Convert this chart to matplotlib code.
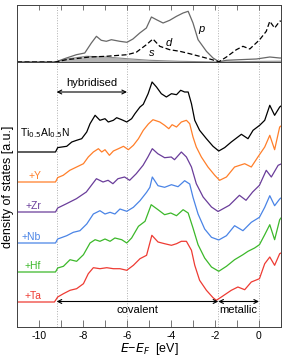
import numpy as np
import matplotlib
matplotlib.use("Agg")
import matplotlib.pyplot as plt

# --- data (heights in arbitrary units) ---

# top panel: partial DOS of Ti0.5Al0.5N
p_E = [-11, -9.25, -8.75, -8.3, -7.92, -7.62, -7.39, -7.17, -6.94, -6.71, -6.33, -6.0, -5.73, -5.42,
       -5.12, -4.89, -4.66, -4.36, -4.06, -3.75, -3.45, -3.22, -3.0, -2.77, -2.39, -2.09, -1.82,
       -1.48, -0.88, -0.12, 0.49, 0.94, 1.0]
p_val = [0, 0, 4, 7.3, 9, 19, 25.7, 21.7, 20.7, 22.3, 20.7, 19.7, 23, 29,
         34, 45, 42.3, 39, 41.7, 45.7, 49, 50.7, 39, 22.3, 10.7, 4, 0.3,
         1.7, 2.3, 3, 5, 4, 4]
d_E = [-11, -9.25, -8.75, -7.7, -6.94, -6.0, -5.58, -5.12, -4.82, -4.51, -4.06, -3.6, -3.15, -2.7,
       -2.24, -1.82, -1.48, -1.03, -0.73, -0.42, 0.03, 0.33, 0.49, 0.71, 0.94, 1.0]
d_val = [0, 0, 2.3, 5, 5.7, 7.3, 9.7, 17.3, 23, 15.7, 12.3, 10.7, 8.3, 5.7,
         3, 0.3, 5, 12.3, 15.7, 13, 22.3, 30.7, 40.7, 34, 40.7, 41]
s_E = [-11, -9.25, -8.75, -7.85, -6.94, -6.0, -4.97, -3.6, -1.82, -1.0, 0.0, 1.0]
s_val = [0, 0, 3, 5.7, 5, 3.3, 1.7, 0.7, 0, 0.3, 0.6, 0.8]

# bottom panel: total DOS, one curve per alloy
labels = ["Ti$_{0.5}$Al$_{0.5}$N", "+Y", "+Zr", "+Nb", "+Hf", "+Ta"]
colors = ["black", "#ff7f2a", "#6a3d9a", "#4a84e6", "#3cb82a", "#ee3b33"]
offsets = [175, 145, 115, 84, 55, 25]

tialn_E = [-11, -9.25, -9.15, -8.74, -8.51, -8.29, -8.06, -7.83, -7.68, -7.45, -7.23, -7.0, -6.85,
           -6.62, -6.47, -6.24, -6.01, -5.79, -5.64, -5.41, -5.26, -5.04, -4.86, -4.66, -4.44,
           -4.21, -3.98, -3.75, -3.56, -3.38, -3.22, -3.07, -2.92, -2.70, -2.39, -2.09, -1.83,
           -1.56, -1.26, -0.8, -0.5, -0.27, 0.03, 0.26, 0.49, 0.71, 0.94, 1.0]
tialn_h = [0, 0, 4.4, 5.7, 10, 11.7, 13.3, 20, 28.3, 36.7, 31.7, 33.3, 30,
           31.7, 34.3, 32.3, 30, 33.3, 38.3, 45, 47.7, 58.3, 70, 65, 58.3,
           55, 58.3, 57.3, 61.7, 60, 60, 48.3, 31.7, 21.7, 13.3, 5.7, 1,
           4.4, 10, 17.7, 13.3, 21.7, 26.7, 31.7, 46.7, 36.7, 45, 46]

y_E = [-11, -9.25, -9.15, -8.9, -8.6, -8.29, -7.98, -7.76, -7.53, -7.30, -7.15, -7.0, -6.8, -6.62,
       -6.39, -6.16, -5.94, -5.71, -5.48, -5.26, -5.03, -4.82, -4.51, -4.29, -4.1, -3.95, -3.75,
       -3.53, -3.3, -3.15, -3.0, -2.85, -2.62, -2.32, -2.01, -1.79, -1.48, -1.11, -0.65, -0.35,
       -0.05, 0.26, 0.49, 0.71, 0.94, 1.0]
y_h = [0, 0, 4.4, 6.7, 11.7, 15, 18.3, 25, 30, 33.3, 30, 32.3, 26.7, 31,
       33.3, 35.7, 32.3, 36.7, 43.3, 51.7, 58, 62.3, 60, 56.7, 53.3, 57.3, 55,
       60, 61.7, 58.3, 45, 35, 25, 15, 6.7, 1.7, 5, 15, 18.3, 15,
       25, 35, 46.7, 32.3, 55, 56]

zr_E = [-11, -9.25, -9.15, -8.75, -8.3, -7.85, -7.39, -7.09, -6.86, -6.64, -6.41, -6.11, -5.88,
        -5.58, -5.27, -5.05, -4.85, -4.6, -4.29, -3.99, -3.84, -3.53, -3.3, -3.07, -2.85, -2.54,
        -2.16, -1.86, -1.35, -0.89, -0.59, -0.29, 0.02, 0.33, 0.56, 0.87, 1.0]
zr_h = [0, 0, 4, 8.3, 13.3, 20, 33.3, 30, 31.7, 28.3, 33.3, 35, 31.7,
        38.3, 46.7, 55, 63.3, 58.3, 54.3, 55, 52.3, 60, 55, 45, 28.3, 15,
        5, 0.5, 6.7, 16.7, 11.7, 20, 26.7, 41.7, 35, 46.7, 48]

nb_E = [-11, -9.25, -9.15, -8.74, -8.44, -8.14, -7.83, -7.53, -7.23, -7.0, -6.77, -6.55, -6.32,
        -6.01, -5.71, -5.41, -5.11, -4.96, -4.85, -4.59, -4.29, -3.98, -3.68, -3.38, -3.15, -3.0,
        -2.77, -2.47, -2.16, -1.83, -1.48, -1.11, -0.73, -0.35, 0.02, 0.26, 0.49, 0.71, 0.94, 1.0]
nb_h = [0, 0, 4, 7.3, 10.7, 12.3, 19, 29, 32.3, 29, 30.7, 29, 34,
        31.7, 35.7, 42.3, 50.7, 55.7, 66, 57.3, 55.7, 58.3, 56.3, 62.3, 59, 45.7,
        29, 14, 5.7, 3, 7.3, 17.3, 12.3, 20.7, 25.7, 35.7, 47.3, 37.3, 44, 45]

hf_E = [-11, -9.25, -9.15, -8.89, -8.59, -8.29, -7.98, -7.68, -7.45, -7.23, -7.0, -6.77, -6.55,
        -6.24, -6.01, -5.79, -5.48, -5.18, -4.9, -4.59, -4.29, -4.01, -3.75, -3.45, -3.22, -3.0,
        -2.77, -2.47, -2.16, -1.83, -1.48, -1.11, -0.73, -0.5, -0.2, 0.02, 0.26, 0.49, 0.71,
        0.94, 1.0]
hf_h = [0, 0, 4, 5.7, 12.3, 10.7, 17.3, 29, 32.3, 30.7, 33, 30.7, 34,
        32.3, 29, 34, 45.7, 50.7, 67.3, 62.3, 57.3, 59, 56.3, 62.3, 59, 44,
        27.3, 14, 5, 0.7, 5.7, 12.3, 17.3, 20.7, 24, 27.3, 37.3, 47.3, 32.3,
        52.3, 54]

ta_E = [-11, -9.3, -9.15, -8.89, -8.59, -8.29, -7.98, -7.76, -7.53, -7.23, -6.92, -6.62, -6.32,
        -6.01, -5.71, -5.41, -5.11, -4.87, -4.59, -4.29, -3.98, -3.75, -3.53, -3.3, -3.07, -2.92,
        -2.7, -2.39, -2.09, -1.94, -1.71, -1.26, -0.96, -0.65, -0.35, 0.02, 0.26, 0.49, 0.71,
        0.94, 1.0]
ta_h = [0, 0, 5, 8.3, 11.7, 13.3, 18.3, 28.3, 34.3, 33.3, 34.3, 33.3, 33.3,
        31.7, 36.7, 43.3, 46.7, 66.7, 60, 58.3, 56.7, 58.3, 60.7, 60.7, 51.7, 36.7,
        21.7, 11.7, 4.3, 1.7, 5, 11.7, 15, 12.3, 20, 23.3, 38.3, 45, 36.7,
        48.3, 49]

dos_E = [tialn_E, y_E, zr_E, nb_E, hf_E, ta_E]
dos_h = [tialn_h, y_h, zr_h, nb_h, hf_h, ta_h]

# characteristic energies (eV)
e_bottom = -9.2
e_hyb = -6.0
e_min = -1.85
e_fermi = 0.0

# --- figure ---
plt.rcParams['font.family'] = ['Liberation Sans', 'DejaVu Sans']
plt.rcParams['axes.unicode_minus'] = False
fig = plt.figure(figsize=(2.84, 3.56), dpi=100)
ax_top = fig.add_axes([17/284, 294/356, 264/284, 57/356])
ax = fig.add_axes([17/284, 29/356, 264/284, 265/356])

for a in (ax_top, ax):
    a.set_xlim(-11, 1)
    for e in (e_bottom, e_hyb, e_min, e_fermi):
        a.axvline(e, color="#b0b0b0", lw=0.7, ls=":", zorder=0)
    a.set_xticks(np.arange(-10, 1, 2))
    a.set_xticks(np.arange(-11, 2, 1), minor=True)
    a.set_yticks([])
    for sp in a.spines.values():
        sp.set_linewidth(0.7)
        sp.set_color("#404040")

# top panel
ax_top.set_ylim(0, 57)
ax_top.fill_between(s_E, 0, s_val, color="#b4b4b4", lw=0)
ax_top.plot(s_E, s_val, color="#8a8a8a", lw=0.8)
ax_top.plot(p_E, p_val, color="#686868", lw=0.9)
ax_top.plot(d_E, d_val, color="black", lw=0.9, ls=(0, (4, 2)))
ax_top.text(-2.62, 33, "p", style="italic", fontsize=8, ha="center", va="center")
ax_top.text(-4.09, 19, "d", style="italic", fontsize=8, ha="center", va="center")
ax_top.text(-4.89, 9, "s", style="italic", fontsize=8, ha="center", va="center")
ax_top.tick_params(axis="x", which="both", direction="in", top=True, bottom=False,
                   labelbottom=False, length=3.5, width=0.6, color="#606060")

# bottom panel
ax.set_ylim(0, 265)
for E, h, off, c, lab in zip(dos_E, dos_h, offsets, colors, labels):
    ax.plot(E, np.array(h) + off, color=c, lw=0.9)
    if lab.startswith("Ti"):
        ax.text(-10.85, off + 19, lab, color=c, fontsize=7.5, ha="left", va="center")
    else:
        ax.text(-9.9, off + 6, lab, color=c, fontsize=7.5, ha="right", va="center")

arrow = dict(arrowstyle="<->", color="black", lw=0.8, shrinkA=0, shrinkB=0,
             mutation_scale=7)
ax.annotate("", xy=(e_bottom, 235), xytext=(e_hyb, 235), arrowprops=arrow)
ax.text((e_bottom + e_hyb) / 2, 244, "hybridised", fontsize=8, ha="center", va="center")
ax.annotate("", xy=(e_bottom, 25.5), xytext=(e_min, 25.5), arrowprops=arrow)
ax.annotate("", xy=(e_min, 25.5), xytext=(e_fermi, 25.5), arrowprops=arrow)
ax.text((e_bottom + e_min) / 2, 17, "covalent", fontsize=8, ha="center", va="center")
ax.text((e_min + e_fermi) / 2, 17, "metallic", fontsize=8, ha="center", va="center")

ax.tick_params(axis="x", which="both", direction="in", length=5, width=0.6,
               color="#606060", labelsize=7.5, pad=3)
ax.set_xlabel("$E$−$E_F$  [eV]", fontsize=9, labelpad=0)
ax.set_ylabel("density of states [a.u.]", fontsize=9, labelpad=4)
ax.yaxis.set_label_coords(-0.012, 0.53)

fig.savefig("out.png", dpi=100)
